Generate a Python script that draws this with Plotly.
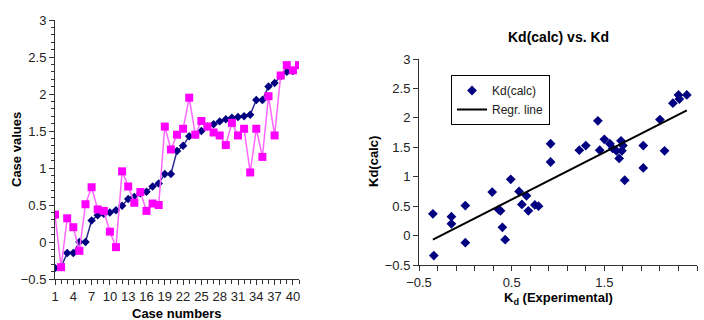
import numpy as np
import plotly.graph_objects as go

# ---------------- data ----------------
case_numbers = list(range(1, 42))
kd_exp = [-0.35, -0.34, -0.15, -0.15, 0.00, 0.00, 0.29, 0.36, 0.38, 0.40,
          0.43, 0.49, 0.58, 0.61, 0.66, 0.68, 0.75, 0.79, 0.92, 0.92,
          1.23, 1.30, 1.43, 1.45, 1.50, 1.56, 1.59, 1.63, 1.66, 1.68,
          1.69, 1.70, 1.72, 1.92, 1.92, 2.10, 2.15, 2.24, 2.30, 2.31, 2.39]
kd_calc = [0.37, -0.34, 0.32, 0.20, -0.12, 0.51, 0.74, 0.44, 0.42, 0.14,
           -0.07, 0.955, 0.75, 0.53, 0.675, 0.42, 0.52, 0.50, 1.56, 1.25,
           1.45, 1.53, 1.95, 1.45, 1.635, 1.56, 1.48, 1.44, 1.31, 1.61,
           1.44, 1.53, 0.94, 1.53, 1.15, 1.97, 1.44, 2.25, 2.39, 2.32, 2.39]
left_xticks = list(range(1, 41, 3))
right_xticks = [-0.5, 0.5, 1.5, 2.5]
y_ticks = [-0.5, 0, 0.5, 1, 1.5, 2, 2.5, 3]

# regression line
slope, intercept = np.polyfit(kd_exp, kd_calc, 1)
reg_x = [min(kd_exp), max(kd_exp)]
reg_y = [slope * v + intercept for v in reg_x]

W, H = 704, 320
FONT = "Liberation Sans, Arial, sans-serif"
NAVY = "#000080"
MAG = "#ff00ff"

fig = go.Figure()

# left chart
fig.add_trace(go.Scatter(x=case_numbers, y=kd_exp, mode="lines+markers",
                         line=dict(color="#2a2a90", width=1.5),
                         marker=dict(symbol="diamond", size=6.5, color=NAVY),
                         xaxis="x", yaxis="y", showlegend=False))
fig.add_trace(go.Scatter(x=case_numbers, y=kd_calc, mode="lines+markers",
                         line=dict(color="#ff66ff", width=1.5),
                         marker=dict(symbol="square", size=8, color=MAG),
                         xaxis="x", yaxis="y", showlegend=False))

# right chart
fig.add_trace(go.Scatter(x=kd_exp, y=kd_calc, mode="markers", name="Kd(calc)",
                         marker=dict(symbol="diamond", size=7.5, color=NAVY),
                         xaxis="x2", yaxis="y2"))
fig.add_trace(go.Scatter(x=reg_x, y=reg_y, mode="lines", name="Regr. line",
                         line=dict(color="black", width=2),
                         xaxis="x2", yaxis="y2"))

tickfont = dict(family=FONT, size=13, color="#222")


def px_x(a, b):
    return [a / W, b / W]


def px_y(top, bottom):
    return [1 - bottom / H, 1 - top / H]


axis_common = dict(showline=True, linecolor="#333", linewidth=1, ticks="outside",
                   tickcolor="#333", ticklen=5, showgrid=False, zeroline=False,
                   tickfont=tickfont, fixedrange=True, automargin=False)


def label(text, x, y, angle=0, size=13):
    return dict(text=text, x=x / W, y=1 - y / H, xref="paper", yref="paper",
                showarrow=False, textangle=angle,
                font=dict(family=FONT, size=size, color="black"),
                xanchor="center", yanchor="middle")


fig.update_layout(
    width=W, height=H,
    margin=dict(l=0, r=0, t=0, b=0),
    paper_bgcolor="white", plot_bgcolor="white",
    font=dict(family=FONT, size=13, color="#222"),
    xaxis=dict(domain=px_x(55, 299), range=[1, 41], tickvals=left_xticks,
               minor=dict(dtick=1, tick0=1, ticks="outside", ticklen=4, tickcolor="#333"),
               anchor="y", **axis_common),
    yaxis=dict(domain=px_y(20, 279), range=[-0.5, 3], tickvals=y_ticks,
               minor=dict(dtick=0.1, tick0=0, ticks="outside", ticklen=3, tickcolor="#333"),
               anchor="x", **axis_common),
    xaxis2=dict(domain=px_x(419, 697), range=[-0.5, 2.5], tickvals=right_xticks,
                minor=dict(dtick=0.2, tick0=-0.5, ticks="outside", ticklen=5, tickcolor="#333"),
                anchor="y2", **axis_common),
    yaxis2=dict(domain=px_y(59, 265), range=[-0.5, 3], tickvals=y_ticks,
                anchor="x2", **axis_common),
    legend=dict(x=451 / W, y=1 - 75 / H, xanchor="left", yanchor="top",
                bordercolor="black", borderwidth=1, bgcolor="white",
                font=dict(family=FONT, size=12, color="#222"),
                tracegroupgap=0, itemwidth=30),
    annotations=[
        label("<b>Kd(calc) vs. Kd</b>", 558, 37, size=14),
        label("<b>Case values</b>", 16, 150, angle=-90),
        label("<b>Case numbers</b>", 177, 313),
        label("<b>Kd(calc)</b>", 373, 162, angle=-90),
        label("<b>K<sub>d</sub> (Experimental)</b>", 558, 298),
    ],
)

fig.write_html("out.html", config={"displayModeBar": False},
               post_script="document.body.style.margin='0';document.body.style.overflow='hidden';")
